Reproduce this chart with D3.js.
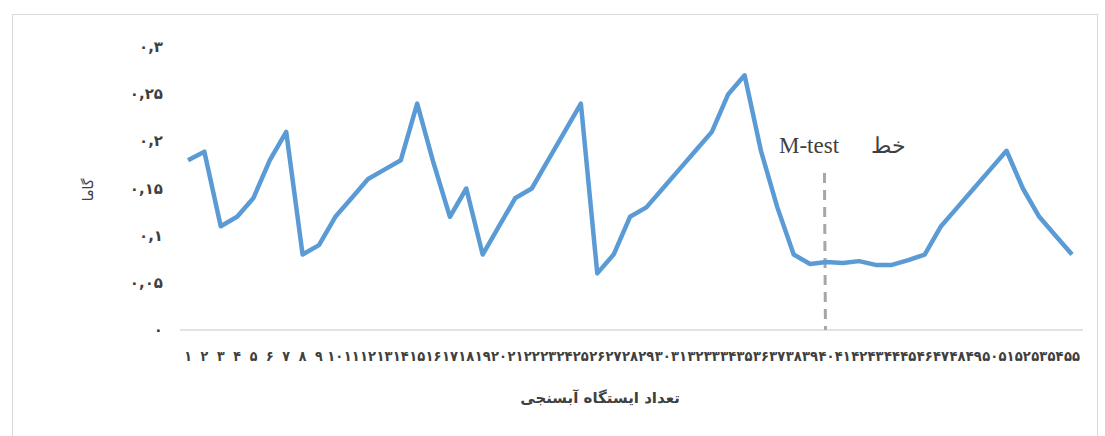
<!DOCTYPE html>
<html><head><meta charset="utf-8">
<script src="https://cdn.jsdelivr.net/npm/d3@7"></script>
<style>body{margin:0;background:#fff}</style></head>
<body><div id="main"></div>
<script>
const stations = d3.range(1, 56);
const gamma = [0.18,0.189,0.11,0.12,0.14,0.18,0.21,0.08,0.09,0.12,0.14,0.16,0.17,0.18,0.24,0.177,0.12,0.15,0.08,0.11,
  0.14,0.15,0.18,0.21,0.24,0.06,0.08,0.12,0.13,0.15,0.17,0.19,0.21,0.25,0.27,0.19,0.13,0.08,0.07,0.072,
  0.071,0.073,0.069,0.069,0.074,0.08,0.11,0.13,0.15,0.17,0.19,0.15,0.12,0.10,0.08];
const yTicks = [0,0.05,0.1,0.15,0.2,0.25,0.3];
const mtestStation = 40;

const fa = s => String(s).replace(/\d/g, d => '۰۱۲۳۴۵۶۷۸۹'[d]).replace('.', ',');
const W = 1105, H = 436;
const svg = d3.select('#main').append('svg').attr('width', W).attr('height', H);
svg.append('rect').attr('x', 12.5).attr('y', 14.5).attr('width', 1085).attr('height', 430)
  .attr('fill', 'none').attr('stroke', '#d9d9d9');

const sx = d3.scaleLinear().domain([1, 55]).range([188, 1072]);
const sy = d3.scaleLinear().domain([0, 0.3]).range([330, 47]);

svg.append('line').attr('x1', 180).attr('x2', 1083).attr('y1', sy(0)).attr('y2', sy(0))
  .attr('stroke', '#d9d9d9').attr('stroke-width', 1.5);

svg.append('g').selectAll('text').data(yTicks).join('text')
  .attr('x', 163).attr('y', d => sy(d) + 5).attr('text-anchor', 'end')
  .attr('font-family', 'DejaVu Sans').attr('font-weight', 'bold').attr('font-size', 15).attr('fill', '#404040')
  .text(d => d === 0 ? '۰' : fa(d));

svg.append('g').selectAll('text').data(stations).join('text')
  .attr('x', d => sx(d)).attr('y', 361).attr('text-anchor', 'middle')
  .attr('font-family', 'DejaVu Sans Condensed').attr('font-weight', 'bold').attr('font-size', 14)
  .attr('fill', '#404040').attr('textLength', d => d >= 10 ? 16 : null)
  .attr('lengthAdjust', 'spacingAndGlyphs')
  .text(d => fa(d));

svg.append('text').attr('x', 600).attr('y', 403).attr('text-anchor', 'middle')
  .attr('font-family', 'DejaVu Sans').attr('font-weight', 'bold').attr('font-size', 15).attr('fill', '#404040')
  .text('تعداد ایستگاه آبسنجی');
svg.append('text').attr('transform', 'translate(93,190) rotate(-90)').attr('text-anchor', 'middle')
  .attr('font-family', 'DejaVu Sans').attr('font-size', 14).attr('fill', '#404040').text('گاما');

svg.append('line').attr('x1', sx(mtestStation) - 2).attr('x2', sx(mtestStation) - 1)
  .attr('y1', 173).attr('y2', sy(0))
  .attr('stroke', '#a6a6a6').attr('stroke-width', 3).attr('stroke-dasharray', '10,7');

svg.append('path').datum(gamma)
  .attr('d', d3.line().x((d, i) => sx(stations[i])).y(d => sy(d)))
  .attr('fill', 'none').attr('stroke', '#5b9bd5').attr('stroke-width', 4.5).attr('stroke-linejoin', 'round');

svg.append('text').attr('x', 779).attr('y', 153)
  .attr('font-family', 'Liberation Serif').attr('font-size', 23).attr('fill', '#404040').text('M-test');
svg.append('text').attr('x', 906).attr('y', 153).attr('text-anchor', 'end')
  .attr('font-family', 'DejaVu Serif').attr('font-size', 22).attr('fill', '#404040').text('خط');
</script></body></html>
